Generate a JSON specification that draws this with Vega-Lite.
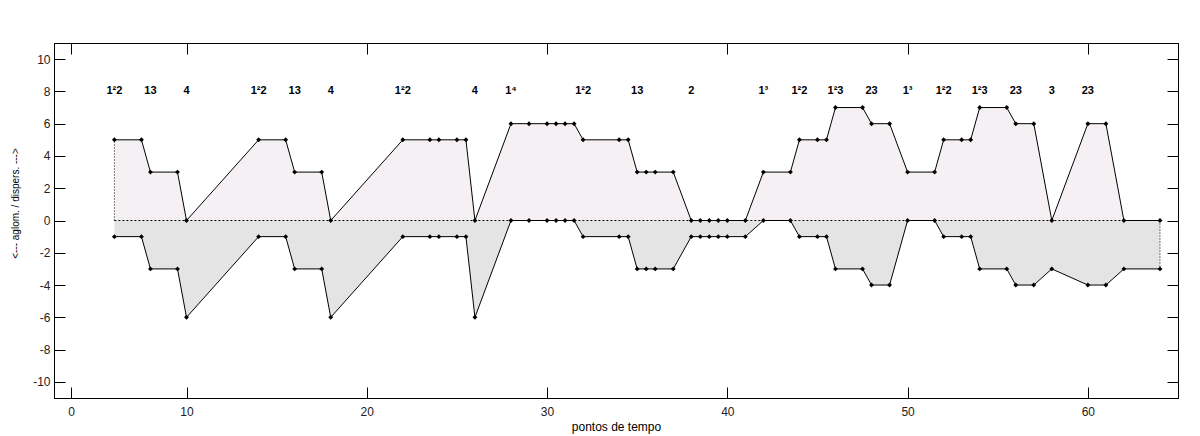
{
  "$schema": "https://vega.github.io/schema/vega-lite/v6.json",
  "width": 1124,
  "height": 355,
  "autosize": {"type": "none"},
  "padding": {"left": 54, "top": 43, "right": 22, "bottom": 38},
  "background": "white",
  "config": {
    "view": {"stroke": "#000", "strokeWidth": 1},
    "axis": {
      "domainColor": "#000",
      "tickColor": "#000",
      "tickSize": -11,
      "grid": false,
      "labelFont": "Liberation Sans",
      "labelFontSize": 12,
      "labelColor": "#222",
      "titleFont": "Liberation Sans",
      "titleFontWeight": "normal",
      "titleColor": "#000"
    }
  },
  "datasets": {
    "series": [
      {"t": 6, "up": 5, "lo": -1},
      {"t": 7.5, "up": 5, "lo": -1},
      {"t": 8, "up": 3, "lo": -3},
      {"t": 9.5, "up": 3, "lo": -3},
      {"t": 10, "up": 0, "lo": -6},
      {"t": 14, "up": 5, "lo": -1},
      {"t": 15.5, "up": 5, "lo": -1},
      {"t": 16, "up": 3, "lo": -3},
      {"t": 17.5, "up": 3, "lo": -3},
      {"t": 18, "up": 0, "lo": -6},
      {"t": 22, "up": 5, "lo": -1},
      {"t": 23.5, "up": 5, "lo": -1},
      {"t": 24, "up": 5, "lo": -1},
      {"t": 25, "up": 5, "lo": -1},
      {"t": 25.5, "up": 5, "lo": -1},
      {"t": 26, "up": 0, "lo": -6},
      {"t": 28, "up": 6, "lo": 0},
      {"t": 29, "up": 6, "lo": 0},
      {"t": 30, "up": 6, "lo": 0},
      {"t": 30.5, "up": 6, "lo": 0},
      {"t": 31, "up": 6, "lo": 0},
      {"t": 31.5, "up": 6, "lo": 0},
      {"t": 32, "up": 5, "lo": -1},
      {"t": 34, "up": 5, "lo": -1},
      {"t": 34.5, "up": 5, "lo": -1},
      {"t": 35, "up": 3, "lo": -3},
      {"t": 35.5, "up": 3, "lo": -3},
      {"t": 36, "up": 3, "lo": -3},
      {"t": 37, "up": 3, "lo": -3},
      {"t": 38, "up": 0, "lo": -1},
      {"t": 38.5, "up": 0, "lo": -1},
      {"t": 39, "up": 0, "lo": -1},
      {"t": 39.5, "up": 0, "lo": -1},
      {"t": 40, "up": 0, "lo": -1},
      {"t": 41, "up": 0, "lo": -1},
      {"t": 42, "up": 3, "lo": 0},
      {"t": 43.5, "up": 3, "lo": 0},
      {"t": 44, "up": 5, "lo": -1},
      {"t": 45, "up": 5, "lo": -1},
      {"t": 45.5, "up": 5, "lo": -1},
      {"t": 46, "up": 7, "lo": -3},
      {"t": 47.5, "up": 7, "lo": -3},
      {"t": 48, "up": 6, "lo": -4},
      {"t": 49, "up": 6, "lo": -4},
      {"t": 50, "up": 3, "lo": 0},
      {"t": 51.5, "up": 3, "lo": 0},
      {"t": 52, "up": 5, "lo": -1},
      {"t": 53, "up": 5, "lo": -1},
      {"t": 53.5, "up": 5, "lo": -1},
      {"t": 54, "up": 7, "lo": -3},
      {"t": 55.5, "up": 7, "lo": -3},
      {"t": 56, "up": 6, "lo": -4},
      {"t": 57, "up": 6, "lo": -4},
      {"t": 58, "up": 0, "lo": -3},
      {"t": 60, "up": 6, "lo": -4},
      {"t": 61, "up": 6, "lo": -4},
      {"t": 62, "up": 0, "lo": -3},
      {"t": 64, "up": 0, "lo": -3}
    ],
    "labels": [
      {"t": 6, "txt": "1²2"},
      {"t": 8, "txt": "13"},
      {"t": 10, "txt": "4"},
      {"t": 14, "txt": "1²2"},
      {"t": 16, "txt": "13"},
      {"t": 18, "txt": "4"},
      {"t": 22, "txt": "1²2"},
      {"t": 26, "txt": "4"},
      {"t": 28, "txt": "1⁴"},
      {"t": 32, "txt": "1²2"},
      {"t": 35, "txt": "13"},
      {"t": 38, "txt": "2"},
      {"t": 42, "txt": "1³"},
      {"t": 44, "txt": "1²2"},
      {"t": 46, "txt": "1²3"},
      {"t": 48, "txt": "23"},
      {"t": 50, "txt": "1³"},
      {"t": 52, "txt": "1²2"},
      {"t": 54, "txt": "1²3"},
      {"t": 56, "txt": "23"},
      {"t": 58, "txt": "3"},
      {"t": 60, "txt": "23"}
    ],
    "edges": [
      {"t": 6, "a": 0, "b": 5},
      {"t": 64, "a": 0, "b": -3}
    ]
  },
  "layer": [
    {
      "data": {"name": "series"},
      "mark": {"type": "area", "color": "#f4f0f4"},
      "encoding": {
        "x": {"field": "t", "type": "quantitative", "scale": {"domain": [2.65, 65], "nice": false, "zero": false},
          "axis": {"orient": "bottom", "values": [3.6, 10, 20, 30, 40, 50, 60], "labelExpr": "datum.value < 5 ? '0' : datum.label", "labelPadding": 19, "title": "pontos de tempo", "titleFontSize": 12, "titlePadding": 4}},
        "y": {"field": "up", "type": "quantitative", "scale": {"domain": [-11, 11], "nice": false, "zero": false},
          "axis": {"orient": "left", "values": [-10, -8, -6, -4, -2, 0, 2, 4, 6, 8, 10], "labelExpr": "'' + datum.value", "labelPadding": 15, "title": "<--- aglom. / dispers. --->", "titleFontSize": 10, "titleX": -39, "titleY": 160, "titleAlign": "center", "titleBaseline": "middle", "titleAngle": -90}},
        "y2": {"datum": 0}
      }
    },
    {
      "data": {"name": "series"},
      "mark": {"type": "area", "color": "#e4e4e4"},
      "encoding": {
        "x": {"field": "t", "type": "quantitative", "scale": {"domain": [2.65, 65], "nice": false, "zero": false}, "axis": null},
        "y": {"field": "lo", "type": "quantitative", "scale": {"domain": [-11, 11], "nice": false, "zero": false}, "axis": null},
        "y2": {"datum": 0}
      }
    },
    {
      "data": {"name": "series"},
      "mark": {"type": "line", "color": "#000", "strokeWidth": 1, "strokeDash": [2, 2]},
      "encoding": {
        "x": {"field": "t", "type": "quantitative", "scale": {"domain": [2.65, 65], "nice": false, "zero": false},
          "axis": {"orient": "top", "values": [3.6, 10, 20, 30, 40, 50, 60], "labels": false, "title": null}},
        "y": {"datum": 0, "type": "quantitative", "scale": {"domain": [-11, 11], "nice": false, "zero": false},
          "axis": {"orient": "right", "values": [-10, -8, -6, -4, -2, 0, 2, 4, 6, 8, 10], "labels": false, "title": null}}
      }
    },
    {
      "data": {"name": "edges"},
      "mark": {"type": "rule", "color": "#000", "strokeWidth": 1, "strokeDash": [1, 2]},
      "encoding": {
        "x": {"field": "t", "type": "quantitative", "scale": {"domain": [2.65, 65], "nice": false, "zero": false}, "axis": null},
        "y": {"field": "a", "type": "quantitative", "scale": {"domain": [-11, 11], "nice": false, "zero": false}, "axis": null},
        "y2": {"field": "b"}
      }
    },
    {
      "data": {"name": "series"},
      "mark": {"type": "line", "color": "#000", "strokeWidth": 1},
      "encoding": {
        "x": {"field": "t", "type": "quantitative", "scale": {"domain": [2.65, 65], "nice": false, "zero": false}, "axis": null},
        "y": {"field": "up", "type": "quantitative", "scale": {"domain": [-11, 11], "nice": false, "zero": false}, "axis": null}
      }
    },
    {
      "data": {"name": "series"},
      "mark": {"type": "line", "color": "#000", "strokeWidth": 1},
      "encoding": {
        "x": {"field": "t", "type": "quantitative", "scale": {"domain": [2.65, 65], "nice": false, "zero": false}, "axis": null},
        "y": {"field": "lo", "type": "quantitative", "scale": {"domain": [-11, 11], "nice": false, "zero": false}, "axis": null}
      }
    },
    {
      "data": {"name": "series"},
      "mark": {"type": "point", "shape": "diamond", "filled": true, "color": "#000", "size": 24, "opacity": 1},
      "encoding": {
        "x": {"field": "t", "type": "quantitative", "scale": {"domain": [2.65, 65], "nice": false, "zero": false}, "axis": null},
        "y": {"field": "up", "type": "quantitative", "scale": {"domain": [-11, 11], "nice": false, "zero": false}, "axis": null}
      }
    },
    {
      "data": {"name": "series"},
      "mark": {"type": "point", "shape": "diamond", "filled": true, "color": "#000", "size": 24, "opacity": 1},
      "encoding": {
        "x": {"field": "t", "type": "quantitative", "scale": {"domain": [2.65, 65], "nice": false, "zero": false}, "axis": null},
        "y": {"field": "lo", "type": "quantitative", "scale": {"domain": [-11, 11], "nice": false, "zero": false}, "axis": null}
      }
    },
    {
      "data": {"name": "labels"},
      "mark": {"type": "text", "font": "Liberation Sans", "fontSize": 11, "fontWeight": "bold", "color": "#000", "align": "center", "baseline": "middle"},
      "encoding": {
        "x": {"field": "t", "type": "quantitative", "scale": {"domain": [2.65, 65], "nice": false, "zero": false}, "axis": null},
        "y": {"datum": 8, "type": "quantitative", "scale": {"domain": [-11, 11], "nice": false, "zero": false}, "axis": null},
        "text": {"field": "txt"}
      }
    }
  ],
  "resolve": {"axis": {"x": "independent", "y": "independent"}}
}
